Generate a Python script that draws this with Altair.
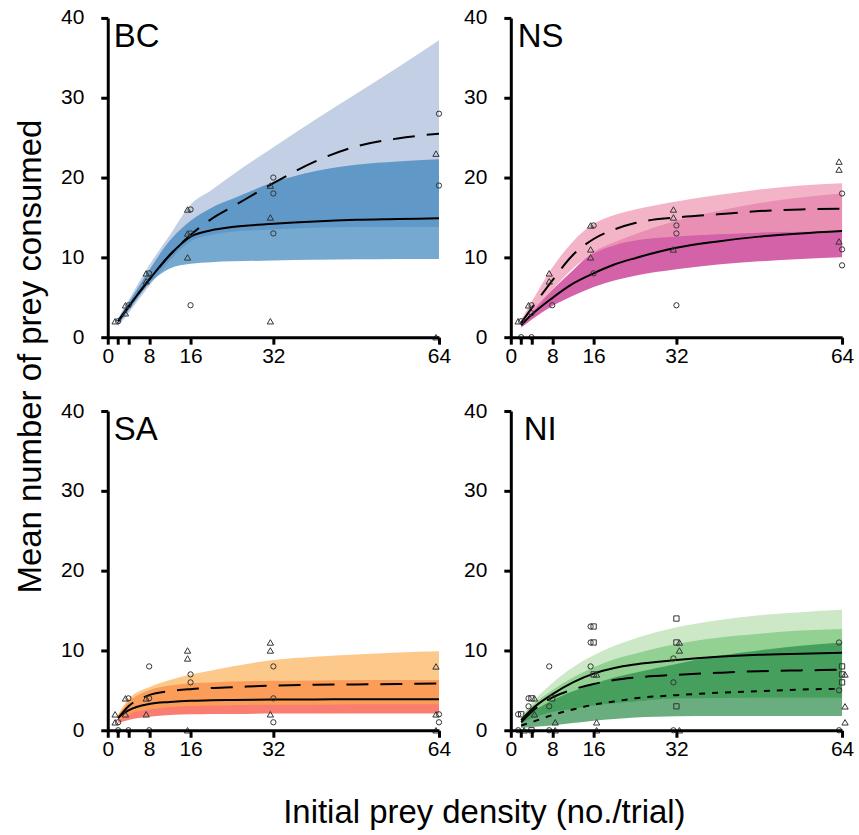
import altair as alt
import pandas as pd

FONT = "Liberation Sans"
PANELS = ["BC", "NS", "SA", "NI"]
X_TITLE = "Initial prey density (no./trial)"
Y_TITLE = "Mean number of prey consumed"
X_TICKS = [0, 2, 4, 8, 16, 32, 64]
Y_TICKS = [0, 10, 20, 30, 40]

# common x grid for fitted curves and confidence bands
X = [2, 4, 8, 12, 16, 20, 24, 32, 40, 48, 56, 64]

# ---------------- BC ----------------
BC_SOLID = [2.0, 3.8, 7.2, 10.3, 12.6, 13.4, 13.8, 14.2, 14.5, 14.7, 14.8, 14.9]
BC_DASHED = [2.0, 3.8, 7.2, 10.3, 12.8, 14.8, 16.3, 19.3, 22.0, 23.9, 24.9, 25.5]
BC_LIGHT_HI = [2.4, 4.6, 9.0, 12.8, 16.6, 18.4, 20.3, 23.8, 27.2, 30.5, 33.8, 37.2]
BC_LIGHT_LO = [1.4, 3.0, 6.4, 9.6, 12.0, 12.8, 13.2, 13.5, 13.7, 13.8, 13.8, 13.8]
BC_DARK_HI = [2.3, 4.3, 8.4, 12.1, 14.6, 16.2, 17.3, 19.4, 20.8, 21.6, 22.0, 22.3]
BC_DARK_LO = [1.6, 3.3, 6.7, 8.6, 9.2, 9.4, 9.5, 9.6, 9.7, 9.75, 9.8, 9.8]
BC_TRI_X = [2, 4, 4, 8, 8, 16, 16, 16, 32, 32, 32, 64, 64]
BC_TRI_Y = [2, 4, 3, 8, 7, 16, 13, 10, 19, 15, 2, 23, 0]
BC_CIR_X = [2, 4, 8, 16, 16, 16, 32, 32, 32, 64, 64]
BC_CIR_Y = [2, 4, 8, 16, 13, 4, 20, 18, 13, 28, 19]

# ---------------- NS ----------------
NS_SOLID = [1.5, 2.8, 4.9, 6.7, 8.0, 9.1, 9.9, 11.2, 12.0, 12.6, 13.0, 13.3]
NS_DASHED = [1.8, 3.6, 7.1, 10.3, 12.3, 13.5, 14.3, 15.0, 15.4, 15.8, 16.0, 16.1]
NS_LIGHT_HI = [2.2, 4.4, 8.7, 12.0, 14.2, 15.3, 16.0, 17.0, 17.8, 18.5, 19.0, 19.3]
NS_LIGHT_LO = [1.5, 3.0, 5.9, 8.6, 10.5, 11.5, 12.1, 12.6, 12.9, 13.1, 13.2, 13.25]
NS_DARK_HI = [1.8, 3.3, 5.9, 8.4, 10.7, 11.9, 12.9, 14.6, 15.8, 16.8, 17.5, 18.0]
NS_DARK_LO = [1.2, 2.2, 3.9, 5.2, 6.3, 7.1, 7.7, 8.5, 9.1, 9.5, 9.8, 10.0]
NS_TRI_X = [2, 4, 8, 8, 16, 16, 16, 32, 32, 32, 64, 64, 64]
NS_TRI_Y = [2, 4, 8, 7, 14, 11, 10, 16, 15, 11, 22, 21, 12]
NS_CIR_X = [2, 2, 4, 4, 4, 8, 16, 16, 32, 32, 32, 64, 64, 64]
NS_CIR_Y = [2, 0, 4, 3, 0, 4, 14, 8, 14, 13, 4, 18, 11, 9]

# ---------------- SA ----------------
SA_SOLID = [1.6, 2.5, 3.3, 3.55, 3.7, 3.75, 3.8, 3.85, 3.87, 3.9, 3.9, 3.9]
SA_DASHED = [1.5, 3.0, 4.4, 4.9, 5.15, 5.3, 5.4, 5.6, 5.7, 5.75, 5.8, 5.85]
SA_LIGHT_HI = [2.0, 3.9, 5.4, 6.3, 7.0, 7.5, 8.0, 8.8, 9.2, 9.5, 9.75, 9.9]
SA_LIGHT_LO = [1.2, 2.0, 2.6, 2.9, 3.05, 3.1, 3.15, 3.2, 3.2, 3.25, 3.25, 3.25]
SA_DARK_HI = [1.9, 3.5, 5.0, 5.6, 5.9, 6.0, 6.1, 6.2, 6.25, 6.3, 6.3, 6.3]
SA_DARK_LO = [0.9, 1.3, 1.7, 1.9, 2.0, 2.05, 2.05, 2.1, 2.1, 2.1, 2.1, 2.1]
SA_TRI_X = [2, 2, 4, 4, 8, 8, 16, 16, 16, 32, 32, 32, 64, 64, 64]
SA_TRI_Y = [2, 1, 4, 2, 4, 2, 10, 9, 0, 11, 10, 2, 8, 2, 0]
SA_CIR_X = [2, 2, 4, 4, 8, 8, 8, 16, 16, 32, 32, 32, 64, 64]
SA_CIR_Y = [1, 0, 4, 0, 8, 4, 0, 7, 6, 8, 4, 1, 2, 1]

# ---------------- NI ----------------
NI_SOLID = [1.25, 2.6, 4.5, 6.0, 7.1, 7.8, 8.25, 8.8, 9.2, 9.45, 9.6, 9.7]
NI_DASHED = [1.0, 2.3, 4.1, 5.1, 5.8, 6.3, 6.6, 6.95, 7.2, 7.4, 7.5, 7.6]
NI_DOTTED = [0.6, 1.0, 1.9, 2.6, 3.2, 3.6, 4.0, 4.4, 4.7, 4.9, 5.1, 5.2]
NI_A_HI = [1.8, 3.4, 5.9, 7.9, 9.4, 10.6, 11.5, 12.9, 13.8, 14.4, 14.8, 15.1]
NI_B_HI = [1.6, 3.0, 5.0, 6.6, 7.9, 8.9, 9.6, 10.8, 11.6, 12.1, 12.5, 12.7]
NI_AB_LO = [0.9, 1.5, 2.3, 2.7, 3.1, 3.4, 3.6, 4.0, 4.05, 4.1, 4.1, 4.1]
NI_C_HI = [1.2, 2.2, 3.75, 4.9, 5.8, 6.6, 7.2, 8.3, 9.3, 10.0, 10.6, 11.0]
NI_C_LO = [0.3, 0.4, 0.6, 0.9, 1.2, 1.4, 1.6, 1.75, 1.8, 1.8, 1.8, 1.8]
NI_CIR_X = [2, 2, 4, 4, 8, 8, 8, 16, 16, 16, 32, 32, 32, 64, 64, 64]
NI_CIR_Y = [2, 0, 4, 3, 8, 3, 0, 13, 11, 8, 9, 6, 0, 11, 5, 0]
NI_SQR_X = [2, 4, 4, 8, 16, 16, 16, 32, 32, 32, 64, 64, 64]
NI_SQR_Y = [2, 4, 0, 4, 13, 11, 7, 14, 11, 3, 8, 7, 6]
NI_TRI_X = [2, 4, 4, 8, 8, 16, 16, 16, 32, 32, 32, 64, 64, 64]
NI_TRI_Y = [0, 4, 2, 1, 0, 7, 1, 0, 11, 10, 0, 7, 3, 1]

W, H = 332, 320
XS = alt.Scale(domain=[0, 64], nice=False, zero=False)
YS = alt.Scale(domain=[0, 40], nice=False, zero=False)

DASH = [22, 12]
DOT = [6, 7]


def x_axis(title):
    kw = dict(values=X_TICKS,
              labelExpr="(datum.value == 2 || datum.value == 4) ? '' : datum.label",
              grid=False, domainWidth=3, domainColor="black", tickWidth=3,
              tickColor="black", tickSize=7, labelFontSize=21, labelFont=FONT,
              labelColor="black", labelPadding=1, labelFlush=False,
              labelOverlap=False, zindex=1)
    if title:
        kw.update(title=title, titleX=377, titleY=82, titleFontSize=33,
                  titleFont=FONT, titleFontWeight="normal", titleBaseline="middle",
                  titleAlign="center", titleColor="black", titleAngle=0)
    else:
        kw.update(title=None)
    return alt.Axis(**kw)


def y_axis(title):
    kw = dict(values=Y_TICKS, grid=False, domainWidth=3, domainColor="black",
              tickWidth=3, tickColor="black", tickSize=7, labelFontSize=21,
              labelFont=FONT, labelColor="black", labelPadding=17,
              labelFlush=False, labelOverlap=False, zindex=1)
    if title:
        kw.update(title=title, titleX=-77, titleY=339, titleFontSize=33,
                  titleFont=FONT, titleFontWeight="normal", titleBaseline="middle",
                  titleAlign="center", titleColor="black", titleAngle=-90)
    else:
        kw.update(title=None)
    return alt.Axis(**kw)


def panel(name, label_x, bands, lines, points, xtitle=None, ytitle=None):
    xa = x_axis(xtitle)
    ya = y_axis(ytitle)
    layers = []
    for lo, hi, color, op in bands:
        df = pd.DataFrame({"x": X, "lo": lo, "hi": hi})
        layers.append(
            alt.Chart(df).mark_area(color=color, opacity=op, interpolate="monotone")
            .encode(x=alt.X("x:Q", scale=XS, axis=xa),
                    y=alt.Y("lo:Q", scale=YS, axis=ya), y2="hi:Q"))
    for vals, dash in lines:
        df = pd.DataFrame({"x": X, "y": vals})
        kw = dict(color="black", strokeWidth=2, interpolate="monotone")
        if dash:
            kw["strokeDash"] = dash
        layers.append(
            alt.Chart(df).mark_line(**kw)
            .encode(x=alt.X("x:Q", scale=XS, axis=xa),
                    y=alt.Y("y:Q", scale=YS, axis=ya)))
    for xs, ys, shape, size, dx in points:
        df = pd.DataFrame({"x": xs, "y": ys})
        layers.append(
            alt.Chart(df).mark_point(shape=shape, filled=False, size=size,
                                     color="#333333", strokeWidth=1, opacity=1,
                                     xOffset=dx)
            .encode(x=alt.X("x:Q", scale=XS, axis=xa),
                    y=alt.Y("y:Q", scale=YS, axis=ya)))
    lab = pd.DataFrame({"label": [name]})
    layers.append(
        alt.Chart(lab).mark_text(align="left", baseline="alphabetic", fontSize=33,
                                 font=FONT, color="black")
        .encode(text="label:N", x=alt.value(label_x), y=alt.value(29)))
    return alt.layer(*layers).properties(width=W, height=H)


bc = panel(
    PANELS[0], 6,
    [(BC_LIGHT_LO, BC_LIGHT_HI, "#c2cfe4", 1.0),
     (BC_DARK_LO, BC_DARK_HI, "#2d7cb8", 0.66)],
    [(BC_SOLID, None), (BC_DASHED, DASH)],
    [(BC_TRI_X, BC_TRI_Y, "triangle-up", 40, -3),
     (BC_CIR_X, BC_CIR_Y, "circle", 28, 0)],
    ytitle=Y_TITLE)

ns = panel(
    PANELS[1], 7,
    [(NS_DARK_LO, NS_DARK_HI, "#d462a9", 1.0),
     (NS_LIGHT_LO, NS_LIGHT_HI, "#f19eb7", 0.77)],
    [(NS_SOLID, None), (NS_DASHED, DASH)],
    [(NS_TRI_X, NS_TRI_Y, "triangle-up", 40, -3),
     (NS_CIR_X, NS_CIR_Y, "circle", 28, 0)])

sa = panel(
    PANELS[2], 6,
    [(SA_DARK_LO, SA_DARK_HI, "#f97d70", 1.0),
     (SA_LIGHT_LO, SA_LIGHT_HI, "#fcad4d", 0.66)],
    [(SA_SOLID, None), (SA_DASHED, DASH)],
    [(SA_TRI_X, SA_TRI_Y, "triangle-up", 40, -3),
     (SA_CIR_X, SA_CIR_Y, "circle", 28, 0)],
    xtitle=X_TITLE)

ni = panel(
    PANELS[3], 13,
    [(NI_AB_LO, NI_A_HI, "#cce8c7", 1.0),
     (NI_AB_LO, NI_B_HI, "#93d192", 1.0),
     (NI_C_LO, NI_C_HI, "#248844", 0.68)],
    [(NI_SOLID, None), (NI_DASHED, DASH), (NI_DOTTED, DOT)],
    [(NI_CIR_X, NI_CIR_Y, "circle", 28, -3),
     (NI_SQR_X, NI_SQR_Y, "square", 28, 0),
     (NI_TRI_X, NI_TRI_Y, "triangle-up", 40, 3)])

chart = alt.concat(bc, ns, sa, ni, columns=2,
                   spacing={"row": 74, "column": 72}, bounds="flush").properties(
    padding={"left": 15, "top": 6, "right": 5, "bottom": 5},
    background="white",
).configure_view(stroke=None)

chart.save("out.html", embed_options={"renderer": "svg", "actions": False})
